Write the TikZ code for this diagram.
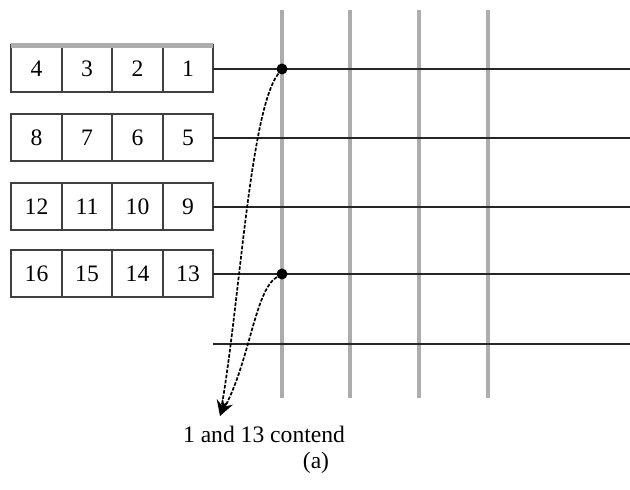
\documentclass[tikz,border=0pt]{standalone}
\usepackage{fontspec}
\setmainfont{Liberation Serif}
\usepackage{tikz}
\usetikzlibrary{arrows.meta,positioning}

\begin{document}
\begin{tikzpicture}[x=0.5pt, y=-0.5pt, font=\fontsize{11.8}{14}\selectfont,
cell/.style={draw=black!75, line width=1pt, minimum width=25.25pt, minimum height=23.5pt, outer sep=0pt, inner sep=0pt},
wire/.style={line width=0.9pt, black!85},
bus/.style={line width=2.2pt, black!32},
dot/.style={circle, fill=black, inner sep=0pt, minimum size=5.5pt},
contend/.style={-{Stealth[length=8pt,width=6pt]}, line width=0.85pt, dash pattern=on 1.8pt off 0.8pt}
]
\useasboundingbox (0,0) rectangle (630,490);
% crossbar columns
\foreach \i/\x in {1/282,2/350,3/419,4/488}{
  \coordinate (b\i t) at (\x,10);
  \coordinate (b\i b) at (\x,398);
  \draw[bus] (b\i t) -- (b\i b);
}
% input buffers, one row per port
\foreach \r/\y in {0/69,1/138,2/207,3/274}{
  \pgfmathtruncatemacro\a{4*\r+1}
  \pgfmathtruncatemacro\b{4*\r+2}
  \pgfmathtruncatemacro\c{4*\r+3}
  \pgfmathtruncatemacro\d{4*\r+4}
  \node[cell] (c\a) at (188,\y) {\a};
  \node[cell, left=0pt of c\a] (c\b) {\b};
  \node[cell, left=0pt of c\b] (c\c) {\c};
  \node[cell, left=0pt of c\c] (c\d) {\d};
  \coordinate (w\a) at (630,\y);
  \draw[wire] (c\a.east) -- (w\a);
}
\draw[bus] (c4.north west) -- (c1.north east);
\coordinate (w0s) at (213,344);
\coordinate (w0e) at (630,344);
\draw[wire] (w0s) -- (w0e);
% contention
\node[dot] (d1) at (282,69) {};
\node[dot] (d13) at (282,274) {};
\node (lbl) at (264,434) {1 and 13 contend};
\coordinate (tip) at (220,416);
\draw[contend] (d1) .. controls (250,110) and (240,300) .. (tip);
\draw[contend] (d13) .. controls (255,290) and (250,360) .. (tip);
\node (cap) at (316,463) {(a)};
\end{tikzpicture}
\end{document}
